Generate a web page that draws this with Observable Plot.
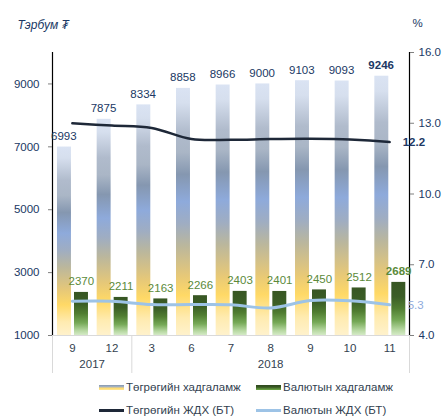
<!DOCTYPE html>
<html><head><meta charset="utf-8">
<script src="https://cdn.jsdelivr.net/npm/d3@7"></script>
<script src="https://cdn.jsdelivr.net/npm/@observablehq/plot@0.6"></script>
<style>
body{margin:0;background:#fff;font-family:"Liberation Sans",Arial,sans-serif;}
#wrap{position:relative;width:443px;height:416px;overflow:hidden;}
.item{position:absolute;display:flex;align-items:center;font-size:11.5px;color:#333f50;transform:translateY(-50%);white-space:nowrap;}
.sw{width:25px;margin-right:2px;}
</style></head><body><div id="wrap"></div>
<script>
// ---- data ----
const months = ["9","12","3","6","7","8","9","10","11"];
const yearLabels = ["2017","2018"];
const yearStart = [0, 2];
const yearEnd = [1, 8];
const togrogDeposits = [6993, 7875, 8334, 8858, 8966, 9000, 9103, 9093, 9246];
const valyutDeposits = [2370, 2211, 2163, 2266, 2403, 2401, 2450, 2512, 2689];
const togrogRate = [13.0, 12.9, 12.8, 12.33, 12.3, 12.33, 12.34, 12.31, 12.2];
const valyutRate = [5.45, 5.45, 5.31, 5.31, 5.3, 5.17, 5.48, 5.47, 5.3];
const leftTicks = [1000, 3000, 5000, 7000, 9000];
const rightTicks = [4, 7, 10, 13, 16];
const leftDomain = [1000, 10000];
const rightDomain = [4, 16];
const seriesNames = ["Төгрөгийн хадгаламж", "Валютын хадгаламж", "Төгрөгийн ЖДХ (БТ)", "Валютын ЖДХ (БТ)"];
const unitLeft = "Тэрбум ₮";
const unitRight = "%";

// ---- build ----
const toLeft = v => leftDomain[0] + (v - rightDomain[0]) * (leftDomain[1] - leftDomain[0]) / (rightDomain[1] - rightDomain[0]);
const fromLeft = v => rightDomain[0] + (v - leftDomain[0]) * (rightDomain[1] - rightDomain[0]) / (leftDomain[1] - leftDomain[0]);
const data = months.map((m, i) => ({i, m, t: togrogDeposits[i], v: valyutDeposits[i], tr: togrogRate[i], vr: valyutRate[i]}));
const n = data.length;
const last = data[n - 1];
const years = yearLabels.map((y, k) => ({y, c: (yearStart[k] + yearEnd[k]) / 2}));
const bounds = [yearStart[0] - 0.5, ...yearEnd.map(e => e + 0.5)];

const W = 443, H = 375, mT = 52, mB = 40, mL = 52, mR = 34;
const navy = "#203864", green = "#5b8a3a";

const svg = Plot.plot({
  width: W, height: H,
  marginTop: mT, marginBottom: mB, marginLeft: mL, marginRight: mR,
  style: {fontFamily: "Liberation Sans, Arial, sans-serif", fontSize: "11px", background: "#fff"},
  x: {type: "linear", domain: [-0.5, n - 0.5], axis: null},
  y: {domain: leftDomain, axis: null},
  marks: [
    Plot.rectY(data, {x1: d => d.i - 0.5, x2: d => d.i + 0.5, y1: leftDomain[0], y2: "t", insetLeft: 5, insetRight: 20.7, fill: "url(#gT)"}),
    Plot.rectY(data, {x1: d => d.i - 0.5, x2: d => d.i + 0.5, y1: leftDomain[0], y2: "v", insetLeft: 22, insetRight: 3.7, fill: "url(#gV)"}),
    Plot.ruleY([leftDomain[0]], {stroke: "#d9d9d9"}),
    Plot.ruleX(bounds, {stroke: "#d9d9d9", insetTop: H - mT - mB, insetBottom: -38}),
    Plot.ruleX([bounds[0], bounds[bounds.length - 1]], {stroke: "#000", strokeWidth: 1.2}),
    Plot.lineY(data, {x: "i", y: d => toLeft(d.vr), stroke: "#9dc3e6", strokeWidth: 3, curve: "catmull-rom"}),
    Plot.lineY(data, {x: "i", y: d => toLeft(d.tr), stroke: "#1e2838", strokeWidth: 2.5, curve: "catmull-rom"}),
    Plot.text(data, {filter: d => d.i < n - 1, x: "i", y: "t", text: d => String(d.t), dx: -8.5, dy: -7, lineAnchor: "bottom", fill: navy, fontSize: 11.5}),
    Plot.text([last], {x: "i", y: "t", text: d => String(d.t), dx: -8.5, dy: -7, lineAnchor: "bottom", fill: navy, fontSize: 11.5, fontWeight: "bold"}),
    Plot.text(data, {filter: d => d.i < n - 1, x: "i", y: "v", text: d => String(d.v), dx: 9, dy: -7, lineAnchor: "bottom", fill: green, fontSize: 11.5}),
    Plot.text([last], {x: "i", y: "v", text: d => String(d.v), dx: 9, dy: -7, lineAnchor: "bottom", fill: green, fontSize: 11.5, fontWeight: "bold"}),
    Plot.text([last], {x: "i", y: d => toLeft(d.tr), text: d => d.tr.toFixed(1), dx: 13, textAnchor: "start", fill: navy, fontSize: 11.5, fontWeight: "bold"}),
    Plot.text([last], {x: "i", y: d => toLeft(d.vr), text: d => d.vr.toFixed(1), dx: 18, textAnchor: "start", fill: "#8faadc", fontSize: 11.5}),
    Plot.axisY(leftTicks, {anchor: "left", tickSize: 4, tickPadding: 9, tickFormat: d => String(d), stroke: "#7f7f7f", fill: navy, fontSize: 11.5, label: null}),
    Plot.axisY(rightTicks.map(toLeft), {anchor: "right", tickSize: 4, tickPadding: 5, tickFormat: v => fromLeft(v).toFixed(1), stroke: "#7f7f7f", fill: navy, fontSize: 11.5, label: null}),
    Plot.axisX(d3.range(n), {anchor: "bottom", tickSize: 0, tickPadding: 8, tickFormat: i => months[i], fill: "#333f50", fontSize: 11.5, label: null}),
    Plot.text(years, {x: "c", text: "y", frameAnchor: "bottom", dy: 32, fill: "#333f50", fontSize: 11.5}),
    Plot.text([unitLeft], {frameAnchor: "top-left", dx: -35, dy: -32, textAnchor: "start", fontStyle: "italic", fill: navy, fontSize: 12}),
    Plot.text([unitRight], {frameAnchor: "top-right", dx: 3, dy: -34, textAnchor: "start", fill: navy, fontSize: 11.5})
  ]
});

// gradients (per-bar, objectBoundingBox)
const defs = d3.select(svg).insert("defs", ":first-child");
function grad(id, stops) {
  const g = defs.append("linearGradient").attr("id", id).attr("x1", 0).attr("y1", 0).attr("x2", 0).attr("y2", 1);
  stops.forEach(([o, c]) => g.append("stop").attr("offset", o).attr("stop-color", c));
}
grad("gT", [[0, "#dae3f3"], [0.06, "#d6dfee"], [0.18, "#b0bbcc"], [0.26, "#aab6c6"], [0.35, "#8597b0"], [0.46, "#8eaadb"], [0.55, "#9fadc2"], [0.64, "#bbb79c"], [0.76, "#e6c878"], [0.84, "#ffd966"], [0.93, "#ffebb0"], [1, "#fff2cc"]]);
grad("gV", [[0, "#375623"], [0.28, "#3b5e26"], [0.5, "#507d31"], [0.72, "#76a957"], [0.9, "#b7d8a2"], [1, "#d4eac6"]]);

const wrap = document.getElementById("wrap");
wrap.appendChild(svg);

// legend
const legendItems = [
  {name: seriesNames[0], left: 99, top: 387, bg: "linear-gradient(#8497b0 0%, #aab6c6 40%, #ffd966 60%, #ffe699 100%)", h: 5},
  {name: seriesNames[1], left: 256, top: 387, bg: "linear-gradient(#2f4a1e 0%, #375623 40%, #548235 70%, #70ad47 100%)", h: 5},
  {name: seriesNames[2], left: 99, top: 410, bg: "#1e2838", h: 3},
  {name: seriesNames[3], left: 256, top: 410, bg: "#9dc3e6", h: 3}
];
legendItems.forEach(it => {
  const d = document.createElement("div");
  d.className = "item";
  d.style.left = it.left + "px";
  d.style.top = it.top + "px";
  const s = document.createElement("span");
  s.className = "sw";
  s.style.height = it.h + "px";
  s.style.background = it.bg;
  d.appendChild(s);
  const t = document.createElement("span");
  t.textContent = it.name;
  d.appendChild(t);
  wrap.appendChild(d);
});
</script></body></html>
